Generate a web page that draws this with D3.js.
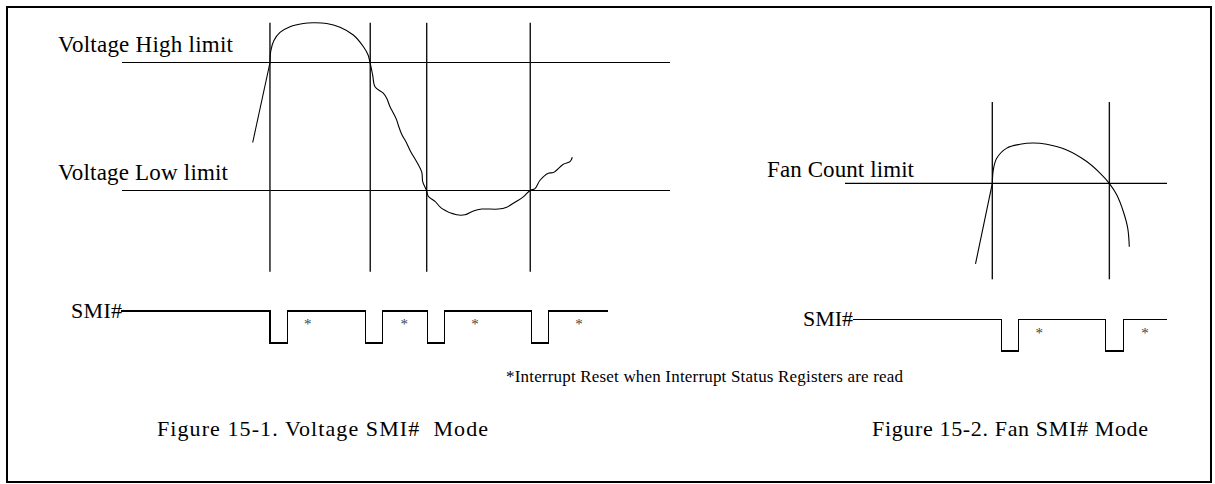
<!DOCTYPE html>
<html>
<head>
<meta charset="utf-8">
<script src="https://cdn.jsdelivr.net/npm/d3@7/dist/d3.min.js"></script>
<style>
  html, body { margin: 0; padding: 0; background: #fff; }
  svg { display: block; }
  text { font-family: "Liberation Serif", "Times New Roman", serif; fill: #000; }
</style>
</head>
<body>
<svg id="chart" width="1215" height="484"></svg>
<script>
// ---------- DATA (time units 0-100 per panel, signal units) ----------
// Figure 15-1: voltage waveform [time, volts]
const voltageCurve = [
  [23.85,2.75],[27.01,4.00],[27.15,4.18],[27.70,4.34],[28.83,4.47],[30.66,4.56],
  [33.08,4.61],[34.91,4.62],[37.35,4.61],[39.78,4.55],[42.21,4.43],[44.03,4.25],
  [44.89,4.12],[45.26,4.00],[45.75,3.80],[46.17,3.62],[47.68,3.52],[48.30,3.44],
  [48.91,3.31],[49.51,3.21],[50.13,3.10],[50.42,3.02],[51.04,2.88],[51.95,2.74],
  [52.55,2.63],[54.69,2.29],[54.87,2.14],[55.57,2.00],[55.89,1.91],[57.12,1.83],
  [58.34,1.72],[61.08,1.62],[62.59,1.62],[64.11,1.68],[65.64,1.71],[68.67,1.71],
  [70.20,1.74],[71.41,1.80],[73.23,1.90],[74.45,2.00],[75.36,2.03],[76.28,2.16],
  [77.79,2.27],[78.70,2.28],[80.53,2.41],[81.75,2.45],[82.17,2.52]
];
const voltageLimitValues = [4, 2];
const voltageLimitLabels = ["Voltage High limit", "Voltage Low limit"];
const voltageEvents = [27.0, 45.3, 55.6, 74.5];
const voltageEventRange = [0.73, 4.62];
const smiVoltSpan = [-0.2, 88.7];
const smiVoltFalls = [27.0, 44.5, 55.7, 74.8];
const smiVoltRises = [30.2, 47.6, 58.8, 77.9];
const smiVoltResets = [33.9, 51.5, 64.4, 83.4];

// Figure 15-2: fan count waveform [time, count units]
const fanCurve = [
  [40.53,0.74],[45.75,2.00],[46.06,2.21],[47.11,2.39],[50.22,2.55],[54.35,2.61],
  [58.39,2.63],[62.64,2.61],[68.85,2.52],[75.06,2.34],[79.19,2.16],[82.08,2.00],
  [84.38,1.82],[86.43,1.56],[87.80,1.30],[88.29,1.01]
];
const fanLimitValue = 2;
const fanLimitLabel = "Fan Count limit";
const fanEvents = [45.75, 82.1];
const fanEventRange = [0.50, 3.27];
const smiFanSpan = [2.5, 100];
const smiFanFalls = [48.5, 81.0];
const smiFanRises = [53.9, 86.4];
const smiFanResets = [60.3, 93.2];

const smiLabel = "SMI#";
const footnote = "*Interrupt Reset when Interrupt Status Registers are read";
const captions = ["Figure 15-1. Voltage SMI#  Mode", "Figure 15-2. Fan SMI# Mode"];

// ---------- SCALES ----------
const xV = d3.scaleLinear().domain([0, 100]).range([122, 670]);
const yV = d3.scaleLinear().domain([2, 4]).range([190.5, 62.5]);
const ySmiV = d3.scaleLinear().domain([0, 1]).range([343, 311]);
const xF = d3.scaleLinear().domain([0, 100]).range([845, 1167]);
const yF = d3.scaleLinear().domain([2, 3]).range([183.3, 119.3]);
const ySmiF = d3.scaleLinear().domain([0, 1]).range([351, 319.5]);

const svg = d3.select("#chart");

// frame
svg.append("rect")
  .attr("x", 7).attr("y", 7).attr("width", 1204).attr("height", 475)
  .attr("fill", "none").attr("stroke", "#000").attr("stroke-width", 2);

function smiPoints(span, falls, rises) {
  const pts = [[span[0], 1]];
  falls.forEach((f, i) => {
    pts.push([f, 1], [f, 0], [rises[i], 0], [rises[i], 1]);
  });
  pts.push([span[1], 1]);
  return pts;
}

function drawPanel(g, opt) {
  const { x, y, ySmi } = opt;
  // limit lines
  g.selectAll(".limit").data(opt.limits).join("line")
    .attr("class", "limit")
    .attr("x1", x(0)).attr("x2", x(100))
    .attr("y1", d => y(d)).attr("y2", d => y(d))
    .attr("stroke", "#000").attr("stroke-width", 1.2);
  // event verticals
  g.selectAll(".event").data(opt.events).join("line")
    .attr("class", "event")
    .attr("x1", d => x(d)).attr("x2", d => x(d))
    .attr("y1", y(opt.eventRange[1])).attr("y2", y(opt.eventRange[0]))
    .attr("stroke", "#111").attr("stroke-width", 1.4);
  // waveform: straight lead-in, then smooth curve
  const lineLin = d3.line().x(d => x(d[0])).y(d => y(d[1]));
  const lineSmooth = d3.line().x(d => x(d[0])).y(d => y(d[1]))
    .curve(d3.curveCatmullRom.alpha(0.5));
  g.append("path")
    .datum(opt.curve.slice(0, 2))
    .attr("d", lineLin)
    .attr("fill", "none").attr("stroke", "#000").attr("stroke-width", 1.1);
  g.append("path")
    .datum(opt.curve.slice(1))
    .attr("d", lineSmooth)
    .attr("fill", "none").attr("stroke", "#000").attr("stroke-width", 1.1);
  // SMI# signal
  g.append("path")
    .datum(smiPoints(opt.smiSpan, opt.falls, opt.rises))
    .attr("d", d3.line().x(d => x(d[0])).y(d => ySmi(d[1])))
    .attr("fill", "none").attr("stroke", "#000").attr("stroke-width", 1.1)
    .attr("shape-rendering", "crispEdges");
  // reset asterisks
  g.selectAll(".reset").data(opt.resets).join("text")
    .attr("class", "reset")
    .attr("x", d => x(d)).attr("y", ySmi(0.66))
    .attr("dy", "0.49em")
    .attr("text-anchor", "middle")
    .style("font-size", "15px").style("fill", "#444")
    .text("*");
}

const gV = svg.append("g");
drawPanel(gV, {
  x: xV, y: yV, ySmi: ySmiV,
  limits: voltageLimitValues, events: voltageEvents, eventRange: voltageEventRange,
  curve: voltageCurve, smiSpan: smiVoltSpan, falls: smiVoltFalls, rises: smiVoltRises,
  resets: smiVoltResets
});
const gF = svg.append("g");
drawPanel(gF, {
  x: xF, y: yF, ySmi: ySmiF,
  limits: [fanLimitValue], events: fanEvents, eventRange: fanEventRange,
  curve: fanCurve, smiSpan: smiFanSpan, falls: smiFanFalls, rises: smiFanRises,
  resets: smiFanResets
});

// labels
function label(txt, x, y, size, len) {
  svg.append("text")
    .attr("x", x).attr("y", y)
    .attr("textLength", len).attr("lengthAdjust", "spacing")
    .attr("xml:space", "preserve")
    .style("font-size", size + "px")
    .style("white-space", "pre")
    .text(txt);
}
label(voltageLimitLabels[0], 58, yV(voltageLimitValues[0]) - 10.5, 23, 175);
label(voltageLimitLabels[1], 58, yV(voltageLimitValues[1]) - 10.5, 23, 170);
label(fanLimitLabel, 767, yF(fanLimitValue) - 6.6, 23, 147);
label(smiLabel, 71, ySmiV(1) + 6.7, 22, 51);
label(smiLabel, 803, ySmiF(1) + 6.2, 22, 50);
label(footnote, 506, 382, 17, 397);
label(captions[0], 157, 436, 22, 331);
label(captions[1], 872, 436, 22, 276);
</script>
</body>
</html>
